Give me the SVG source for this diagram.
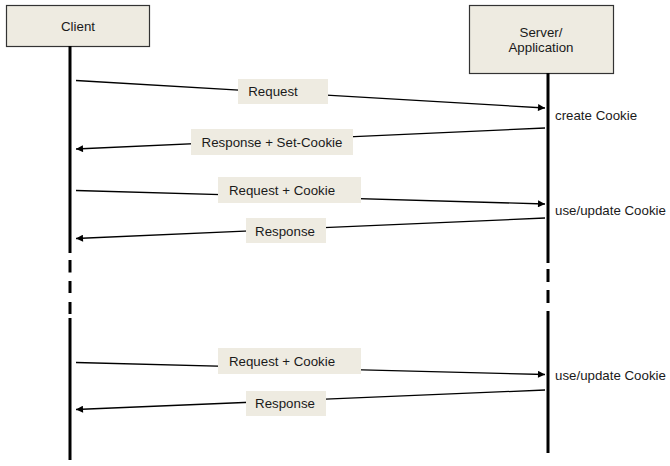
<svg xmlns="http://www.w3.org/2000/svg" width="670" height="466" viewBox="0 0 670 466">
<defs>
<style>
text{font-family:"Liberation Sans",Arial,sans-serif;font-size:13.3px;fill:#1a1a1a}
.node{fill:#eeebe1;stroke:#333;stroke-width:1.2}
.lab{fill:#eeebe1;stroke:none}
.life{stroke:#000;stroke-width:3;fill:none}
.msg{stroke:#000;stroke-width:1.3;fill:none;marker-end:url(#ah)}
</style>
<marker id="ah" viewBox="0 0 10 10" refX="10" refY="5" markerWidth="8" markerHeight="7" markerUnits="userSpaceOnUse" orient="auto">
<path d="M0,0 L10,5 L0,10 z" fill="#000"/>
</marker>
</defs>
<rect width="670" height="466" fill="#fff"/>
<g id="client">
<rect class="node" x="6.5" y="5.5" width="143" height="41"/>
<text x="78" y="31" text-anchor="middle">Client</text>
<path class="life" d="M70,46 V253 M70,260 V272.5 M70,281 V293 M70,302 V314 M70,318 V460"/>
</g>
<g id="server">
<rect class="node" x="469.5" y="5.5" width="144" height="68"/>
<text x="541" y="37" text-anchor="middle">Server/</text>
<text x="541" y="52" text-anchor="middle">Application</text>
<path class="life" d="M548,73 V263 M548,269 V282 M548,290 V303 M548,311 V453"/>
</g>
<g id="connectors">
<line class="msg" x1="76" y1="80.5" x2="545" y2="108"/>
<line class="msg" x1="545" y1="128" x2="76" y2="149"/>
<line class="msg" x1="76" y1="190.5" x2="545" y2="204"/>
<line class="msg" x1="545" y1="218" x2="76" y2="238.5"/>
<line class="msg" x1="76" y1="362.5" x2="545" y2="374.5"/>
<line class="msg" x1="545" y1="390" x2="76" y2="409.5"/>
</g>
<g id="labels">
<rect class="lab" x="238" y="79" width="90" height="25"/>
<text x="273" y="96" text-anchor="middle">Request</text>
<rect class="lab" x="191" y="129" width="162" height="26"/>
<text x="272" y="147" text-anchor="middle">Response + Set-Cookie</text>
<rect class="lab" x="218" y="177" width="143" height="26"/>
<text x="282" y="195" text-anchor="middle">Request + Cookie</text>
<rect class="lab" x="246" y="218" width="80" height="25"/>
<text x="285" y="236" text-anchor="middle">Response</text>
<rect class="lab" x="218" y="348" width="143" height="26"/>
<text x="282" y="366" text-anchor="middle">Request + Cookie</text>
<rect class="lab" x="246" y="391" width="80" height="25"/>
<text x="285" y="408" text-anchor="middle">Response</text>
</g>
<g id="notes">
<text x="555" y="120">create Cookie</text>
<text x="555" y="215">use/update Cookie</text>
<text x="555" y="380">use/update Cookie</text>
</g>
</svg>
